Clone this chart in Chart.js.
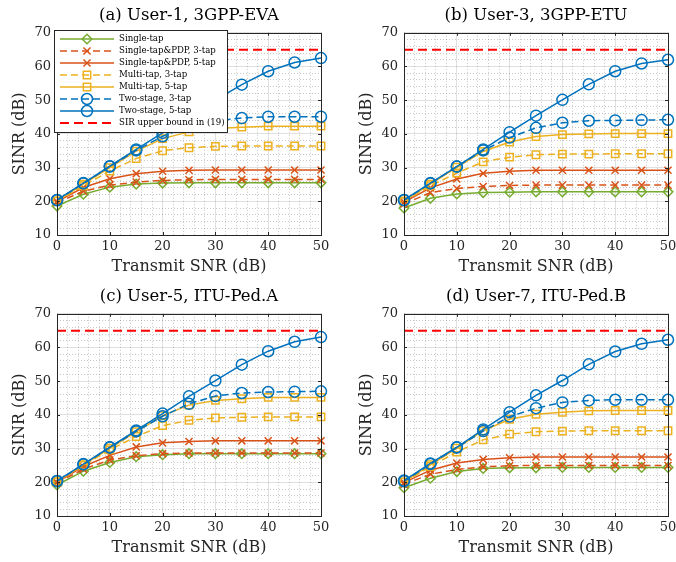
<!DOCTYPE html>
<html>
<head>
<meta charset="utf-8">
<script src="https://cdn.jsdelivr.net/npm/chart.js@4.4.1/dist/chart.umd.min.js"></script>
<style>
  html, body { margin: 0; padding: 0; background: #fff; overflow: hidden; width: 676px; height: 562px; }
  .cell { position: absolute; width: 338px; height: 280px; }
</style>
</head>
<body>
<div class="cell" style="left:0;top:0"><canvas id="c1" width="338" height="280"></canvas></div>
<div class="cell" style="left:347px;top:0"><canvas id="c2" width="338" height="280"></canvas></div>
<div class="cell" style="left:0;top:281px"><canvas id="c3" width="338" height="280"></canvas></div>
<div class="cell" style="left:347px;top:281px"><canvas id="c4" width="338" height="280"></canvas></div>
<script>
// transmit SNR points (dB)
const snr = [0, 5, 10, 15, 20, 25, 30, 35, 40, 45, 50];
const sirBound = 65;

const names = [
    "Single-tap",
    "Single-tap&PDP, 3-tap",
    "Single-tap&PDP, 5-tap",
    "Multi-tap, 3-tap",
    "Multi-tap, 5-tap",
    "Two-stage, 3-tap",
    "Two-stage, 5-tap",
    "SIR upper bound in (19)"
];

const titles = [
    "(a) User-1, 3GPP-EVA",
    "(b) User-3, 3GPP-ETU",
    "(c) User-5, ITU-Ped.A",
    "(d) User-7, ITU-Ped.B"
];

// (a) User-1, 3GPP-EVA
const evaSingle = [18.6, 22.1, 24.2, 25.1, 25.4, 25.5, 25.5, 25.5, 25.5, 25.5, 25.5];
const evaPdp3   = [19.6, 23.0, 24.8, 25.7, 26.2, 26.4, 26.5, 26.5, 26.5, 26.5, 26.5];
const evaPdp5   = [19.9, 24.1, 26.7, 28.2, 28.9, 29.2, 29.3, 29.3, 29.3, 29.3, 29.3];
const evaMulti3 = [20.0, 24.6, 29.0, 32.7, 35.0, 35.9, 36.3, 36.4, 36.4, 36.4, 36.4];
const evaMulti5 = [20.1, 25.1, 30.0, 34.9, 38.6, 40.6, 41.6, 42.0, 42.3, 42.3, 42.3];
const evaTwo3   = [20.3, 25.3, 30.3, 35.1, 39.3, 42.3, 43.9, 44.7, 45.1, 45.1, 45.1];
const evaTwo5   = [20.4, 25.4, 30.4, 35.4, 40.3, 45.2, 50.0, 54.6, 58.6, 61.2, 62.5];

// (b) User-3, 3GPP-ETU
const etuSingle = [18.0, 20.9, 22.2, 22.6, 22.7, 22.8, 22.8, 22.8, 22.8, 22.8, 22.8];
const etuPdp3   = [19.2, 22.6, 23.8, 24.4, 24.7, 24.8, 24.8, 24.8, 24.8, 24.8, 24.8];
const etuPdp5   = [19.8, 24.0, 26.6, 28.3, 28.9, 29.2, 29.2, 29.2, 29.2, 29.2, 29.2];
const etuMulti3 = [19.9, 24.6, 28.4, 31.7, 33.1, 33.8, 34.0, 34.0, 34.1, 34.1, 34.1];
const etuMulti5 = [20.1, 25.1, 30.1, 34.8, 37.6, 39.2, 39.8, 40.0, 40.1, 40.1, 40.1];
const etuTwo3   = [20.3, 25.3, 30.3, 35.1, 38.9, 41.8, 43.3, 43.9, 44.0, 44.1, 44.2];
const etuTwo5   = [20.4, 25.4, 30.3, 35.4, 40.5, 45.4, 50.1, 54.7, 58.6, 60.9, 62.0];

// (c) User-5, ITU-Ped.A
const pedaSingle = [19.2, 23.3, 25.9, 27.6, 28.2, 28.5, 28.5, 28.5, 28.5, 28.5, 28.5];
const pedaPdp3   = [19.8, 23.9, 26.6, 27.9, 28.5, 28.7, 28.7, 28.7, 28.7, 28.7, 28.7];
const pedaPdp5   = [20.0, 24.7, 28.0, 30.5, 31.7, 32.1, 32.3, 32.3, 32.3, 32.3, 32.3];
const pedaMulti3 = [20.1, 25.0, 29.6, 33.6, 36.8, 38.4, 39.1, 39.3, 39.4, 39.4, 39.4];
const pedaMulti5 = [20.2, 25.2, 30.1, 35.0, 39.8, 42.9, 44.3, 44.8, 45.2, 45.2, 45.2];
const pedaTwo3   = [20.3, 25.3, 30.3, 35.1, 39.6, 43.3, 45.6, 46.5, 46.8, 46.9, 47.0];
const pedaTwo5   = [20.4, 25.4, 30.4, 35.4, 40.4, 45.5, 50.2, 54.9, 58.9, 61.7, 63.1];

// (d) User-7, ITU-Ped.B
const pedbSingle = [18.4, 21.2, 23.2, 24.1, 24.3, 24.3, 24.4, 24.4, 24.4, 24.4, 24.4];
const pedbPdp3   = [19.4, 22.4, 23.8, 24.6, 24.9, 25.0, 25.0, 25.0, 25.0, 25.0, 25.0];
const pedbPdp5   = [19.9, 23.6, 25.7, 26.8, 27.3, 27.5, 27.5, 27.5, 27.5, 27.5, 27.5];
const pedbMulti3 = [20.0, 24.7, 29.0, 32.6, 34.3, 35.0, 35.2, 35.3, 35.3, 35.3, 35.3];
const pedbMulti5 = [20.1, 25.2, 30.1, 35.3, 38.7, 40.2, 40.8, 41.2, 41.3, 41.3, 41.3];
const pedbTwo3   = [20.3, 25.4, 30.3, 35.2, 39.5, 42.0, 43.7, 44.3, 44.5, 44.5, 44.5];
const pedbTwo5   = [20.5, 25.6, 30.4, 35.7, 40.8, 45.8, 50.2, 55.0, 58.8, 61.1, 62.3];

const panels = [
    [evaSingle, evaPdp3, evaPdp5, evaMulti3, evaMulti5, evaTwo3, evaTwo5],
    [etuSingle, etuPdp3, etuPdp5, etuMulti3, etuMulti5, etuTwo3, etuTwo5],
    [pedaSingle, pedaPdp3, pedaPdp5, pedaMulti3, pedaMulti5, pedaTwo3, pedaTwo5],
    [pedbSingle, pedbPdp3, pedbPdp5, pedbMulti3, pedbMulti5, pedbTwo3, pedbTwo5]
];

// matlab colours
const BLUE = "#0072BD", ORANGE = "#D95319", YELLOW = "#EDB120", GREEN = "#77AC30", RED = "#FF0000";
const DASH = [7, 4];
const LW = 1.5;
const styles = [
    { color: GREEN,  dash: [],   marker: "rectRot",  r: 4.8 },
    { color: ORANGE, dash: DASH, marker: "crossRot", r: 5 },
    { color: ORANGE, dash: [],   marker: "crossRot", r: 5 },
    { color: YELLOW, dash: DASH, marker: "rect",     r: 5.2 },
    { color: YELLOW, dash: [],   marker: "rect",     r: 5.2 },
    { color: BLUE,   dash: DASH, marker: "circle",   r: 5.5 },
    { color: BLUE,   dash: [],   marker: "circle",   r: 5.5 },
    { color: RED,    dash: [9, 5], marker: false,    r: 0 }
];

const FONT = "'DejaVu Serif', 'Liberation Serif', serif";
const INK = "#262626";

function buildDatasets(series) {
    let sets = series.map((vals, i) => ({
        label: names[i],
        data: snr.map((x, k) => ({ x: x, y: vals[k] })),
        borderColor: styles[i].color,
        backgroundColor: "rgba(0,0,0,0)",
        borderWidth: LW,
        borderDash: styles[i].dash,
        pointStyle: styles[i].marker,
        pointRadius: styles[i].r,
        pointBorderWidth: LW,
        pointBorderColor: styles[i].color,
        pointBackgroundColor: "rgba(0,0,0,0)",
        tension: 0,
        clip: false,
        order: 8 - i
    }));
    sets.push({
        label: names[7],
        data: [{ x: snr[0], y: sirBound }, { x: snr[snr.length - 1], y: sirBound }],
        borderColor: RED,
        borderWidth: 2,
        borderDash: styles[7].dash,
        pointRadius: 0,
        tension: 0,
        order: 0
    });
    return sets;
}

// box round the axes + inward ticks, like matlab
const boxPlugin = {
    id: "box",
    afterDatasetsDraw(chart) {
        const { ctx, chartArea: a, scales } = chart;
        ctx.save();
        ctx.strokeStyle = INK;
        ctx.lineWidth = 1;
        ctx.setLineDash([]);
        ctx.strokeRect(Math.round(a.left) + 0.5, Math.round(a.top) + 0.5,
            Math.round(a.right - a.left), Math.round(a.bottom - a.top));
        ctx.beginPath();
        for (let v = 0; v <= 50; v += 10) {
            let px = Math.round(scales.x.getPixelForValue(v)) + 0.5;
            ctx.moveTo(px, a.bottom); ctx.lineTo(px, a.bottom - 3);
            ctx.moveTo(px, a.top); ctx.lineTo(px, a.top + 3);
        }
        for (let v = 10; v <= 70; v += 10) {
            let py = Math.round(scales.y.getPixelForValue(v)) + 0.5;
            ctx.moveTo(a.left, py); ctx.lineTo(a.left + 3, py);
            ctx.moveTo(a.right, py); ctx.lineTo(a.right - 3, py);
        }
        ctx.stroke();
        ctx.restore();
    }
};

// legend box drawn inside panel (a)
const legendPlugin = {
    id: "innerLegend",
    afterDatasetsDraw(chart, args, opts) {
        if (!opts.show) return;
        const ctx = chart.ctx;
        ctx.save();
        ctx.fillStyle = "#fff";
        ctx.fillRect(54, 30, 174, 103);
        ctx.strokeStyle = INK;
        ctx.lineWidth = 1;
        ctx.setLineDash([]);
        ctx.strokeRect(54.5, 30.5, 173, 102);
        ctx.font = "8.6px " + FONT;
        ctx.textBaseline = "middle";
        names.forEach((name, i) => {
            let y = 39 + 12 * i;
            let st = styles[i];
            ctx.strokeStyle = st.color;
            ctx.lineWidth = i === 7 ? 2 : LW;
            ctx.setLineDash(st.dash);
            ctx.beginPath();
            ctx.moveTo(60, y);
            ctx.lineTo(114, y);
            ctx.stroke();
            ctx.setLineDash([]);
            if (st.marker) {
                ctx.fillStyle = "rgba(0,0,0,0)";
                ctx.lineWidth = LW;
                Chart.helpers.drawPoint(ctx, { pointStyle: st.marker, radius: st.r, rotation: 0, borderWidth: LW }, 87, y);
            }
            ctx.fillStyle = "#000";
            ctx.fillText(name, 119, y);
        });
        ctx.restore();
    }
};

function gridColor(c) {
    return c.tick && c.tick.value % 10 === 0 ? "rgba(0,0,0,0.12)" : "rgba(0,0,0,0.22)";
}
function gridDash(c) {
    return c.tick && c.tick.value % 10 === 0 ? [] : [1, 2];
}

function makeChart(id, title, series, withLegend) {
    return new Chart(document.getElementById(id), {
        type: "line",
        data: { datasets: buildDatasets(series) },
        options: {
            responsive: false,
            animation: false,
            layout: { padding: { left: 0, right: 17, top: 0, bottom: 0 } },
            plugins: {
                legend: { display: false },
                tooltip: { enabled: false },
                title: {
                    display: true,
                    fullSize: false,
                    text: title,
                    color: "#000",
                    font: { family: FONT, size: 16.5, weight: "normal", lineHeight: 1.2 },
                    padding: { top: 6, bottom: 7 }
                },
                innerLegend: { show: withLegend }
            },
            scales: {
                x: {
                    type: "linear",
                    min: 0,
                    max: 50,
                    afterFit: s => { s.height = 45; s.paddingLeft = 0; s.paddingRight = 0; },
                    ticks: {
                        stepSize: 2,
                        autoSkip: false,
                        maxRotation: 0,
                        minRotation: 0,
                        padding: 4,
                        color: INK,
                        font: { family: FONT, size: 13 },
                        callback: v => (v % 10 === 0 ? v : "")
                    },
                    grid: { color: gridColor, lineWidth: 1, drawTicks: false },
                    border: { display: false, dash: gridDash },
                    title: {
                        display: true,
                        text: "Transmit SNR (dB)",
                        color: INK,
                        font: { family: FONT, size: 16, lineHeight: 1.2 },
                        padding: { top: 0, bottom: 4 }
                    }
                },
                y: {
                    type: "linear",
                    min: 10,
                    max: 70,
                    afterFit: s => { s.width = 57; s.paddingTop = 0; s.paddingBottom = 0; },
                    ticks: {
                        stepSize: 2,
                        autoSkip: false,
                        padding: 6,
                        color: INK,
                        font: { family: FONT, size: 13 },
                        callback: v => (v % 10 === 0 ? v : "")
                    },
                    grid: { color: gridColor, lineWidth: 1, drawTicks: false },
                    border: { display: false, dash: gridDash },
                    title: {
                        display: true,
                        text: "SINR (dB)",
                        color: INK,
                        font: { family: FONT, size: 16, lineHeight: 1.2 },
                        padding: { top: 10, bottom: 0 }
                    }
                }
            }
        },
        plugins: [boxPlugin, legendPlugin]
    });
}

makeChart("c1", titles[0], panels[0], true);
makeChart("c2", titles[1], panels[1], false);
makeChart("c3", titles[2], panels[2], false);
makeChart("c4", titles[3], panels[3], false);
</script>
</body>
</html>
